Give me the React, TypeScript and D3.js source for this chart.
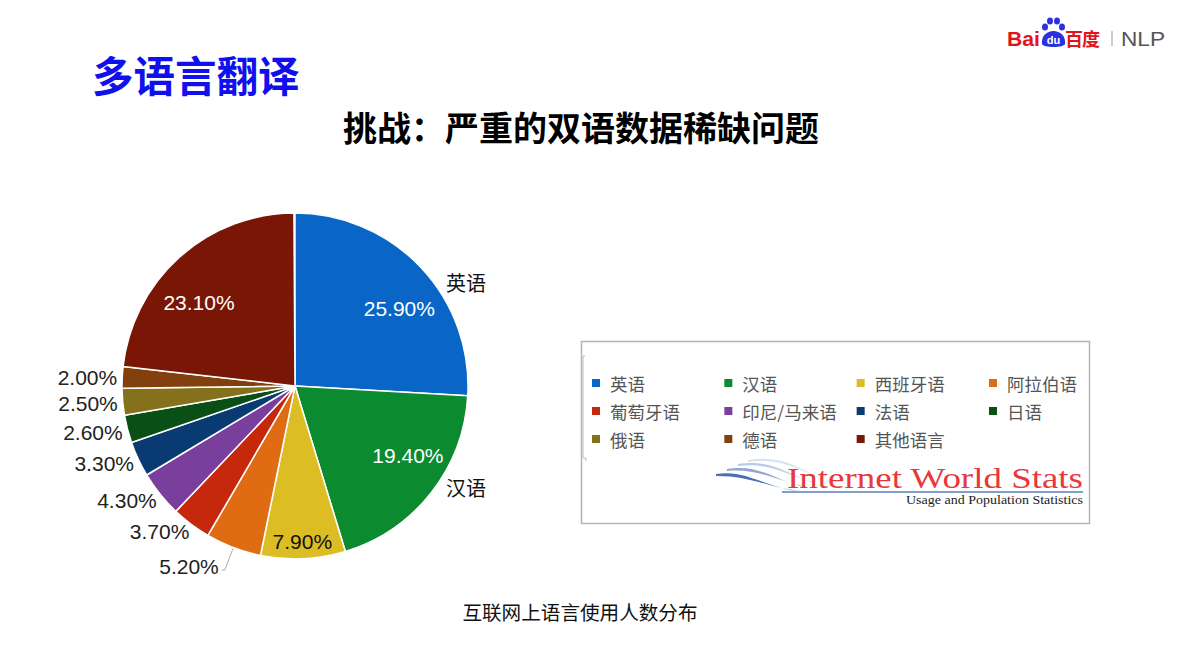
import React from "react";
import * as d3 from "d3";

const languages = ["英语", "汉语", "西班牙语", "阿拉伯语", "葡萄牙语", "印尼/马来语", "法语", "日语", "俄语", "德语", "其他语言"];
const shares = [25.9, 19.4, 7.9, 5.2, 3.7, 4.3, 3.3, 2.6, 2.5, 2.0, 23.1];
const sliceColors = ["#0966c6", "#0b8a2f", "#dcbd24", "#df6b12", "#c5280b", "#7a3f9c", "#093b72", "#0a5016", "#85711b", "#83400f", "#7a1606"];
const legendLabels = ["英语", "汉语", "西班牙语", "阿拉伯语", "葡萄牙语", "印尼/马来语", "法语", "日语", "俄语", "德语", "其他语言"];
const insideLabelIdx = [0, 1, 2, 10];
const leaderLabelIdx = [3];
const namedSlices = [0, 1];

const CJK = "'Noto Sans CJK SC', 'Noto Sans', sans-serif";
const NUM = "'Liberation Sans', Arial, Helvetica, sans-serif";

export default function App() {
  const W = 1180, H = 663;
  const cx = 295, cy = 386, R = 173;

  const pie = d3.pie<number>().sort(null).value((d) => d).startAngle(0).endAngle(2 * Math.PI * (d3.sum(shares) / 100));
  const arcs = pie(shares);
  const arcGen = d3.arc<d3.PieArcDatum<number>>().innerRadius(0).outerRadius(R);
  const pt = (a: number, r: number) => [cx + r * Math.sin(a), cy - r * Math.cos(a)];

  const xCol = d3.scalePoint<number>().domain([0, 1, 2, 3]).range([596, 993]);
  const yRow = d3.scalePoint<number>().domain([0, 1, 2]).range([383, 439]);

  return (
    <svg width={W} height={H} style={{ position: "absolute", left: 0, top: 0, background: "#fff" }}>
      {/* Baidu logo */}
      <g>
        <text x={1007} y={46} fontFamily={NUM} fontWeight="bold" fontSize={21} fill="#e1141b" textLength={33} lengthAdjust="spacingAndGlyphs">Bai</text>
        <ellipse cx={1045} cy={27} rx={3} ry={3.6} fill="#2a32e0" />
        <ellipse cx={1050} cy={21} rx={3} ry={3.6} fill="#2a32e0" />
        <ellipse cx={1057} cy={21} rx={3} ry={3.6} fill="#2a32e0" />
        <ellipse cx={1062} cy={27} rx={3} ry={3.6} fill="#2a32e0" />
        <path d="M1042,44 C1041,36 1047,31 1053.5,31 C1060,31 1066,36 1065,44 C1064,48 1043,48 1042,44 Z" fill="#2a32e0" />
        <text x={1053.5} y={44} textAnchor="middle" fontFamily={NUM} fontWeight="bold" fontSize={11} fill="#fff">du</text>
        <text x={1065} y={46} fontFamily={CJK} fontWeight="bold" fontSize={18} fill="#e1141b" letterSpacing={-1}>百度</text>
        <line x1={1112} y1={31} x2={1112} y2={46} stroke="#999" strokeWidth={1} />
        <text x={1121} y={46} fontFamily={NUM} fontSize={21} fill="#555" textLength={44} lengthAdjust="spacingAndGlyphs">NLP</text>
      </g>

      {/* Titles */}
      <text x={92} y={92} fontFamily={CJK} fontWeight="bold" fontSize={41.5} fill="#1010ee">多语言翻译</text>
      <text x={581} y={141} textAnchor="middle" fontFamily={CJK} fontWeight="bold" fontSize={34} fill="#000">挑战：严重的双语数据稀缺问题</text>

      {/* Pie */}
      <g transform={`translate(${cx},${cy})`}>
        {arcs.map((a, i) => (
          <path key={i} d={arcGen(a) || ""} fill={sliceColors[i]} stroke="#fff" strokeWidth={1.5} strokeLinejoin="round" />
        ))}
      </g>
      {arcs.map((a, i) => {
        const mid = (a.startAngle + a.endAngle) / 2;
        const txt = shares[i].toFixed(2) + "%";
        if (insideLabelIdx.includes(i)) {
          const narrow = a.endAngle - a.startAngle < 0.6;
          const kx = narrow ? 0.9 : 0.83;
          const ky = narrow ? 0.9 : 0.65;
          const x = cx + R * kx * Math.sin(mid);
          const y = cy - R * ky * Math.cos(mid);
          return (
            <text key={"l" + i} x={x} y={y} textAnchor="middle" dominantBaseline="central" fontFamily={NUM} fontSize={21}
              fill={i === 2 ? "#111" : "#fff"}>{txt}</text>
          );
        }
        if (leaderLabelIdx.includes(i)) {
          const [x1, y1] = pt(mid, R + 1);
          const [x2, y2] = pt(mid, R + 24);
          return (
            <g key={"l" + i}>
              <polyline points={`${x1},${y1} ${x2},${y2} ${x2 - 3},${y2}`} fill="none" stroke="#aaa" strokeWidth={1} />
              <text x={x2 - 6} y={y2 - 4} textAnchor="end" dominantBaseline="central" fontFamily={NUM} fontSize={21} fill="#222">{txt}</text>
            </g>
          );
        }
        const [x, y] = pt(mid, R + 8);
        return (
          <text key={"l" + i} x={x + 3} y={y + 1} textAnchor="end" dominantBaseline="central" fontFamily={NUM} fontSize={21} fill="#222">{txt}</text>
        );
      })}
      {namedSlices.map((i) => {
        const a = arcs[i];
        const mid = (a.startAngle + a.endAngle) / 2;
        const [, y] = pt(mid, R + 20);
        return (
          <text key={"n" + i} x={446} y={i === 0 ? 282 : y - 18} dominantBaseline="central" fontFamily={CJK} fontSize={20} fill="#111">{languages[i]}</text>
        );
      })}

      {/* Legend box */}
      <rect x={581.5} y={341.5} width={508} height={182} fill="#fff" stroke="#b4b4b4" strokeWidth={1.5} />
      <polyline points="585,356 583,356 583,458 586,458 586,461" fill="none" stroke="#bbb" strokeWidth={1} />
      {legendLabels.map((l, i) => {
        const col = i % 4, row = Math.floor(i / 4);
        const x = xCol(col) as number, y = yRow(row) as number;
        return (
          <g key={"g" + i}>
            <rect x={x - 4} y={y - 4} width={8} height={8} fill={sliceColors[i]} />
            <text x={x + 14} y={y} dominantBaseline="central" fontFamily={CJK} fontSize={17.5} fill="#555">{l}</text>
          </g>
        );
      })}

      {/* Internet World Stats logo */}
      <g>
        <path d="M716,474 C745,470 760,484 790,490 L800,491 C770,488 752,476 716,476 Z" fill="#4a6fb5" />
        <path d="M727,469 C758,464 772,478 800,486 L808,487 C778,482 760,468 727,471 Z" fill="#7d98cc" opacity={0.85} />
        <path d="M738,464 C770,459 784,472 810,482 L816,483 C788,476 772,462 738,466 Z" fill="#a9bde0" opacity={0.8} />
        <path d="M748,460 C780,455 795,466 818,477 L822,478 C797,470 782,457 748,462 Z" fill="#cfdbef" opacity={0.8} />
        <line x1={782} y1={492} x2={1083} y2={492} stroke="#5a7cc0" strokeWidth={1.5} />
        <text x={787} y={488} fontFamily="'Liberation Serif', 'Times New Roman', serif" fontSize={29} fill="#e8383c" textLength={296} lengthAdjust="spacingAndGlyphs">Internet World Stats</text>
        <text x={906} y={504} fontFamily="'Liberation Serif', 'Times New Roman', serif" fontSize={12.5} fill="#222" textLength={177} lengthAdjust="spacingAndGlyphs">Usage and Population Statistics</text>
      </g>

      {/* Caption */}
      <text x={580} y={611} textAnchor="middle" dominantBaseline="central" fontFamily={CJK} fontSize={19.6} fill="#111">互联网上语言使用人数分布</text>
    </svg>
  );
}
